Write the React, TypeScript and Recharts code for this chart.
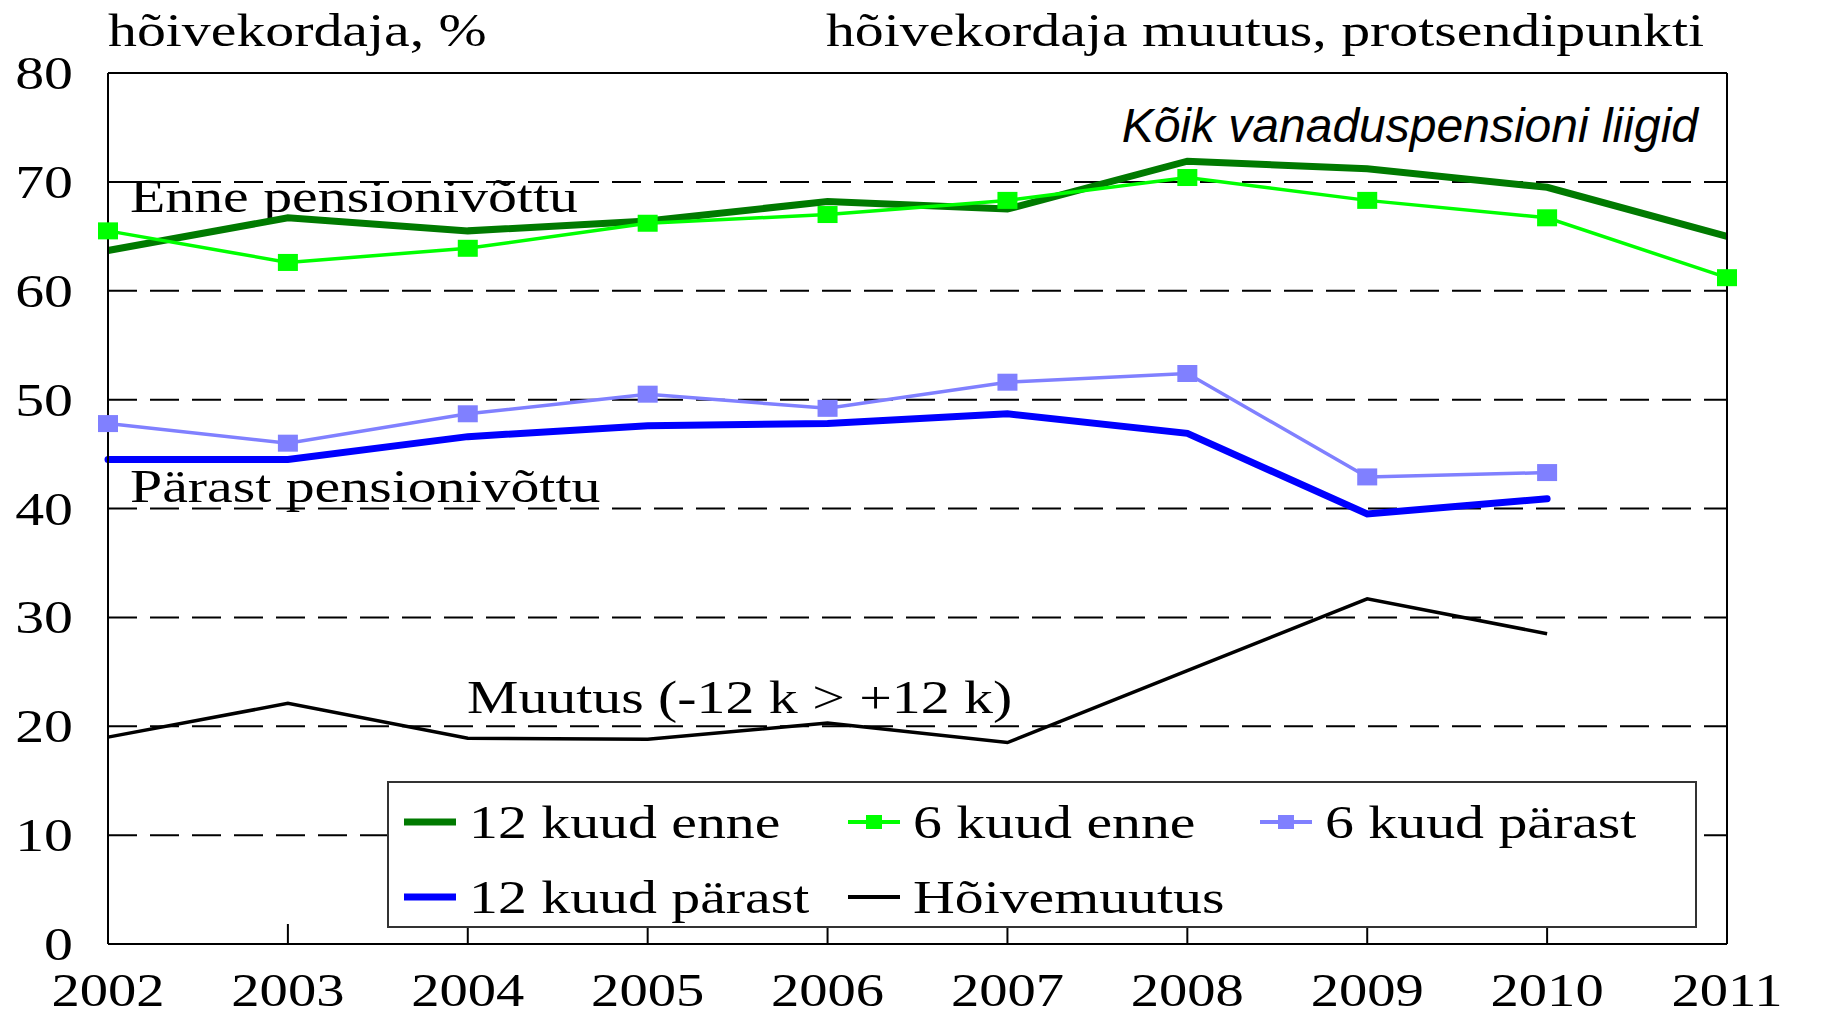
import React from 'react';
import { LineChart, Line, XAxis, YAxis, CartesianGrid, Legend, Customized, ReferenceLine } from 'recharts';

// values
const years = [2002, 2003, 2004, 2005, 2006, 2007, 2008, 2009, 2010, 2011];
const kuud12Enne = [63.7, 66.7, 65.5, 66.4, 68.2, 67.5, 71.9, 71.2, 69.5, 65.0];
const kuud6Enne = [65.5, 62.6, 63.9, 66.2, 67.0, 68.3, 70.4, 68.3, 66.7, 61.2];
const kuud6Parast = [47.8, 46.0, 48.7, 50.5, 49.2, 51.6, 52.4, 42.9, 43.3, null];
const kuud12Parast = [44.5, 44.5, 46.6, 47.6, 47.8, 48.7, 46.9, 39.5, 40.9, null];
const hoivemuutus = [19.0, 22.1, 18.9, 18.8, 20.3, 18.5, 25.1, 31.7, 28.5, null];
const yTicks = [0, 10, 20, 30, 40, 50, 60, 70, 80];
const gridValues = [10, 20, 30, 40, 50, 60, 70];

const data = years.map((year, i) => ({
  year,
  k12enne: kuud12Enne[i],
  k6enne: kuud6Enne[i],
  k6parast: kuud6Parast[i],
  k12parast: kuud12Parast[i],
  muutus: hoivemuutus[i],
}));

const SERIF = '"Liberation Serif", "Times New Roman", serif';
const SX = 1.23; // text in the source is stretched sideways
const FS = 47;

const StretchText = ({ x, y, anchor = 'start', baseline, size = FS, children }: any) => (
  <text
    transform={`translate(${x},${y}) scale(${SX},1)`}
    textAnchor={anchor}
    dominantBaseline={baseline}
    fontFamily={SERIF}
    fontSize={size}
    fill="#000"
  >
    {children}
  </text>
);

const LeftTick = ({ x, y, payload }: any) => (
  <StretchText x={x} y={y} anchor="end" baseline="central">{payload.value}</StretchText>
);

const RightTick = ({ x, y, payload }: any) => (
  <StretchText x={x} y={y} anchor="start" baseline="central">{payload.value}</StretchText>
);

const YearTick = ({ x, y, payload }: any) => {
  const inner = payload.value !== years[0] && payload.value !== years[years.length - 1];
  return (
    <g>
      {inner && <line x1={x} y1={y} x2={x} y2={y - 20} stroke="#000" strokeWidth={2} />}
      <StretchText x={x} y={y + 62} anchor="middle" size={46}>{payload.value}</StretchText>
    </g>
  );
};

const squareDot = (color: string) => (props: any) => {
  const { cx, cy, index } = props;
  if (cy == null || cx == null) return <g key={`d-${index}`} />;
  return <rect key={`d-${index}`} x={cx - 10} y={cy - 8.5} width={20} height={17} fill={color} />;
};

const legendItems = [
  { name: '12 kuud enne', color: '#007a00', width: 7, marker: false, col: 0, row: 0 },
  { name: '6 kuud enne', color: '#00ff00', width: 4, marker: true, col: 1, row: 0 },
  { name: '6 kuud pärast', color: '#8080ff', width: 4, marker: true, col: 2, row: 0 },
  { name: '12 kuud pärast', color: '#0000ff', width: 7, marker: false, col: 0, row: 1 },
  { name: 'Hõivemuutus', color: '#000000', width: 4, marker: false, col: 1, row: 1 },
];
const legendCols = [17, 461, 873];
const legendRows = [41, 116];

const renderLegend = () => (
  <svg width={1310} height={147} style={{ display: 'block' }}>
    <rect x={1} y={1} width={1308} height={145} fill="#fff" stroke="#333" strokeWidth={2} />
    {legendItems.map((it) => {
      const x = legendCols[it.col];
      const y = legendRows[it.row];
      return (
        <g key={it.name}>
          <line x1={x} y1={y} x2={x + 52} y2={y} stroke={it.color} strokeWidth={it.width} />
          {it.marker && <rect x={x + 18} y={y - 7} width={16} height={14} fill={it.color} />}
          <StretchText x={x + 65} y={y} baseline="central">{it.name}</StretchText>
        </g>
      );
    })}
  </svg>
);

const Annotations = () => (
  <g>
    <StretchText x={108} y={46}>hõivekordaja, %</StretchText>
    <StretchText x={1704} y={46} anchor="end">hõivekordaja muutus, protsendipunkti</StretchText>
    <text x={1698} y={142} textAnchor="end" fontFamily='"Liberation Sans", Arial, sans-serif'
      fontStyle="italic" fontSize={48} fill="#000">Kõik vanaduspensioni liigid</text>
    <StretchText x={130} y={212}>Enne pensionivõttu</StretchText>
    <StretchText x={130} y={502}>Pärast pensionivõttu</StretchText>
    <StretchText x={467} y={713}>Muutus (-12 k &gt; +12 k)</StretchText>
  </g>
);

export default function App() {
  return (
    <div style={{ position: 'absolute', left: 0, top: 0, width: 1836, height: 1016, background: '#fff' }}>
      <LineChart width={1836} height={1016} data={data} margin={{ top: 73, right: 0, bottom: 0, left: 0 }}>
        <CartesianGrid horizontal vertical={false} horizontalValues={gridValues} stroke="#000" strokeWidth={2} strokeDasharray="29 13" />
        <XAxis
          dataKey="year"
          type="number"
          domain={[2002, 2011]}
          ticks={years}
          height={72}
          tickSize={0}
          tickMargin={0}
          tickLine={false}
          axisLine={{ stroke: '#000', strokeWidth: 2 }}
          tick={<YearTick />}
          interval={0}
        />
        <YAxis
          domain={[0, 80]}
          ticks={yTicks}
          width={108}
          tickSize={0}
          tickMargin={35}
          tickLine={false}
          axisLine={{ stroke: '#000', strokeWidth: 2 }}
          tick={<LeftTick />}
          interval={0}
        />
        <YAxis
          yAxisId="right"
          orientation="right"
          domain={[0, 80]}
          ticks={yTicks}
          width={109}
          tickSize={0}
          tickMargin={38}
          tickLine={false}
          axisLine={{ stroke: '#000', strokeWidth: 2 }}
          tick={<RightTick />}
          interval={0}
        />
        <ReferenceLine y={80} stroke="#000" strokeWidth={2} ifOverflow="visible" />
        <Line dataKey="k12enne" name="12 kuud enne" stroke="#007a00" strokeWidth={7} dot={false} isAnimationActive={false} />
        <Line dataKey="k6enne" name="6 kuud enne" stroke="#00ff00" strokeWidth={3.5} dot={squareDot('#00ff00')} isAnimationActive={false} />
        <Line dataKey="k12parast" name="12 kuud pärast" stroke="#0000ff" strokeWidth={7} strokeLinecap="round" dot={false} isAnimationActive={false} />
        <Line dataKey="k6parast" name="6 kuud pärast" stroke="#8080ff" strokeWidth={3.5} dot={squareDot('#8080ff')} isAnimationActive={false} />
        <Line dataKey="muutus" name="Hõivemuutus" stroke="#000" strokeWidth={3.5} dot={false} isAnimationActive={false} />
        <Customized component={<Annotations />} />
        <Legend
          layout="horizontal"
          verticalAlign="middle"
          align="center"
          content={renderLegend}
          wrapperStyle={{ left: 387, top: 781, width: 1310, height: 147 }}
        />
      </LineChart>
    </div>
  );
}
